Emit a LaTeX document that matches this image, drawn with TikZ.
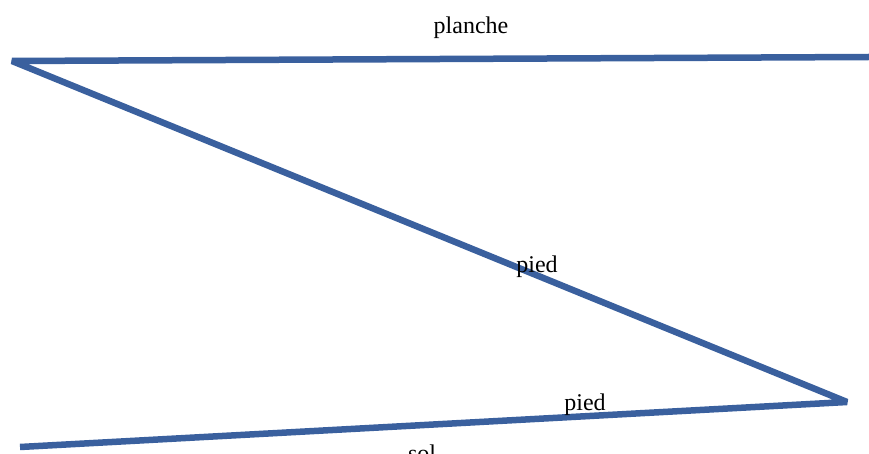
\documentclass[tikz,border=0pt]{standalone}
\usepackage{fontspec}
\setmainfont{Liberation Serif}
\usepackage{xcolor}
\usetikzlibrary{positioning}
\definecolor{plankblue}{RGB}{58,96,158}

\begin{document}
\begin{tikzpicture}[x=1pt, y=-1pt,
		beam/.style={plankblue, line width=6.5pt, line join=bevel, line cap=butt},
		tag/.style={font=\fontsize{24}{28}\selectfont, inner sep=0pt, anchor=base}]
		\useasboundingbox (0,0) rectangle (869,454);

		\coordinate (planchL) at (12,61);
		\coordinate (planchR) at (869,57);
		\coordinate (knee) at (847,402);
		\coordinate (solL) at (20,447);

		\draw [beam] (planchR) -- (planchL) -- (knee) -- (solL);

		\node [tag] (planche) at (471,34) {planche};
		\node [tag] (piedA) at (537,272) {pied};
		\node [tag] (piedB) at (585,410) {pied};
		\node [tag] (sol) at (422,461) {sol};
	\end{tikzpicture}
\end{document}
